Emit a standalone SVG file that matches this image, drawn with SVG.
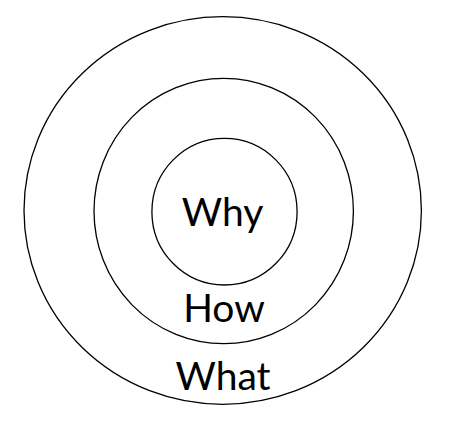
<svg xmlns="http://www.w3.org/2000/svg" width="451" height="428" viewBox="0 0 451 428">
<style>
.ring{fill:none;stroke:#000;stroke-width:1.3}
.lbl{font-family:Lato,"Open Sans","Liberation Sans",sans-serif;font-size:39px;fill:#000;text-anchor:middle}
</style>
<rect width="451" height="428" fill="#fff"/>
<g id="what">
<ellipse class="ring" cx="222.7" cy="210.5" rx="198.7" ry="193.8"/>
<text class="lbl" x="223" y="390">What</text>
</g>
<g id="how">
<ellipse class="ring" cx="223.7" cy="211" rx="129.7" ry="132.7"/>
<text class="lbl" x="224" y="321.7">How</text>
</g>
<g id="why">
<ellipse class="ring" cx="224.5" cy="211.7" rx="72.6" ry="73.3"/>
<text class="lbl" x="222.5" y="225.7">Why</text>
</g>
<g id="connectors"/>
</svg>
